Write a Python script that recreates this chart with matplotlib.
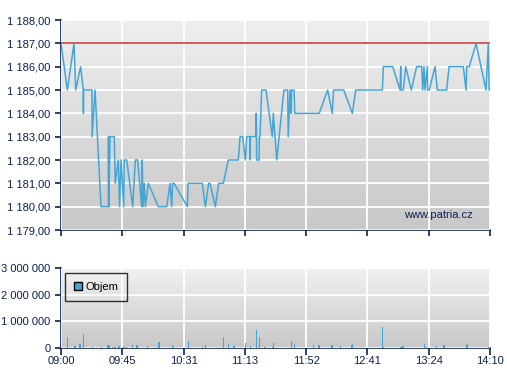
import matplotlib.pyplot as plt
import numpy as np
from matplotlib.patches import Patch

plt.rcParams['font.family'] = ['Liberation Sans', 'DejaVu Sans']

# minutes since 09:00 (axis spans the session 09:00 - 14:10)
price_t = [0, 4.6, 9.4, 10.6, 14.2, 16.1, 16.2, 16.3, 22.4, 22.5, 24.6, 28.9,
           34.2, 34.3, 34.6, 35.4, 38.5, 39.2, 41.4, 42.3, 43.4, 45.3, 45.7,
           47.5, 51.8, 53.7, 55.4, 58.3, 58.7, 59.3, 60.2, 61.0, 63.1, 70.3,
           76.4, 78.8, 80.0, 80.7, 81.7, 91.3, 91.8, 102.1, 104.3, 106.7,
           107.7, 111.5, 114.0, 117.3, 120.9, 128.1, 129.4, 131.3, 133.2,
           134.2, 136.6, 136.7, 136.9, 140.9, 141.1, 141.4, 143.1, 143.3,
           143.8, 145.0, 148.1, 152.7, 153.4, 155.9, 161.1, 163.8, 164.2,
           165.5, 166.4, 166.6, 168.4, 168.9, 186.6, 192.7, 196.0, 197.0,
           204.3, 210.5, 213.0, 232.2, 232.9, 239.7, 245.0, 245.5, 245.7,
           247.3, 249.1, 253.1, 257.0, 260.6, 261.4, 262.3, 263.0, 264.7,
           264.9, 266.1, 270.3, 271.9, 278.7, 280.4, 290.7, 292.7, 293.2,
           295.0, 299.9, 307.1, 308.8, 309.4]
price = [1187, 1185, 1187, 1185, 1186, 1185, 1184, 1185, 1185, 1183, 1185, 1180,
         1180, 1183, 1180, 1183, 1183, 1181, 1182, 1180, 1182, 1180, 1182,
         1182, 1180, 1182, 1182, 1180, 1182, 1180, 1181, 1180, 1181, 1180,
         1180, 1181, 1180, 1181, 1181, 1180, 1181, 1181, 1180, 1181,
         1181, 1180, 1181, 1181, 1182, 1182, 1183, 1183, 1182,
         1183, 1183, 1182, 1183, 1183, 1184, 1182, 1182, 1183,
         1183, 1185, 1185, 1183, 1184, 1182, 1185, 1185, 1183,
         1185, 1184, 1185, 1185, 1184, 1184, 1185, 1184, 1185,
         1185, 1184, 1185, 1185, 1186, 1186, 1185, 1186, 1185,
         1185, 1186, 1185, 1186, 1186, 1185, 1186, 1185, 1186,
         1185, 1185, 1186, 1185, 1185, 1186, 1186, 1185, 1186,
         1186, 1187, 1185, 1187, 1185]
prev_close = 1187

vol_t = [4.6, 10.3, 13.9, 16.1, 22.6, 29.1, 33.5, 34.2, 34.9, 37.1, 39.2, 42.1,
         45.0, 46.0, 47.2, 51.5, 55.1, 62.4, 70.3, 71.0, 80.4, 81.1, 92.0,
         102.1, 104.3, 117.3, 120.9, 125.2, 133.2, 136.8, 141.1, 143.3, 147.6,
         152.7, 153.4, 166.4, 168.6, 182.3, 186.6, 196.0, 201.8, 209.8, 210.5,
         232.2, 232.9, 245.2, 245.9, 247.3, 262.5, 264.0, 271.2, 276.9, 292.9,
         293.6, 308.8]
volume = [415000, 75000, 150000, 530000, 40000, 40000, 115000, 115000, 115000,
          40000, 40000, 75000, 40000, 40000, 40000, 115000, 115000, 75000,
          115000, 225000, 115000, 40000, 265000, 40000, 115000, 415000, 150000,
          75000, 190000, 75000, 680000, 415000, 40000, 40000, 190000, 265000,
          150000, 115000, 115000, 115000, 75000, 115000, 150000, 790000, 40000,
          40000, 40000, 75000, 150000, 40000, 75000, 115000, 115000, 150000,
          40000]

time_labels = ['09:00', '09:45', '10:31', '11:13', '11:52', '12:41', '13:24', '14:10']
price_ticks = [1179, 1180, 1181, 1182, 1183, 1184, 1185, 1186, 1187, 1188]
vol_ticks = [0, 1000000, 2000000, 3000000]

navy = '#0b2150'
blue = '#45a6d6'
span = 310
xticks = np.linspace(0, span, len(time_labels))


def style_axes(ax, top_c, bot_c):
    grad = np.linspace(0, 1, 256).reshape(-1, 1)
    c0 = np.array(top_c) / 255.0
    c1 = np.array(bot_c) / 255.0
    img = c0 + (c1 - c0) * grad[:, :, None]
    ax.imshow(img, extent=[0, 1, 0, 1], transform=ax.transAxes,
              aspect='auto', zorder=0)
    for s in ['top', 'right']:
        ax.spines[s].set_visible(False)
    for s in ['left', 'bottom']:
        ax.spines[s].set_color(navy)
        ax.spines[s].set_linewidth(1.2)
    ax.tick_params(colors=navy, labelsize=8, length=4, width=1.2,
                   labelcolor=navy)
    ax.grid(True, color='white', linewidth=1.3, zorder=1)
    ax.set_axisbelow(False)
    ax.set_xlim(0, span)
    ax.set_xticks(xticks)


fig = plt.figure(figsize=(5.07, 3.80), dpi=100)
ax1 = fig.add_axes([61 / 507, 1 - 230 / 380, 429 / 507, 210 / 380])
ax2 = fig.add_axes([61 / 507, 1 - 348 / 380, 429 / 507, 80 / 380])

style_axes(ax1, (239, 239, 239), (200, 200, 200))
ax1.set_ylim(1179, 1188)
ax1.set_yticks(price_ticks)
ax1.set_yticklabels(['1 %03d,00' % (p - 1000) for p in price_ticks])
ax1.set_xticklabels([])
ax1.axhline(prev_close, color='#c8302c', linewidth=1.1, zorder=3)
ax1.plot(price_t, price, color=blue, linewidth=1.1, zorder=4)
ax1.text(0.96, 0.07, 'www.patria.cz', transform=ax1.transAxes, ha='right',
         va='center', fontsize=8, color=navy, zorder=5)

style_axes(ax2, (241, 241, 241), (200, 200, 200))
ax2.bar(vol_t, volume, width=1.1, color=blue, zorder=4)
ax2.set_ylim(0, 3000000)
ax2.set_yticks(vol_ticks)
ax2.set_yticklabels(['{:,}'.format(v).replace(',', ' ') for v in vol_ticks])
ax2.set_xticklabels(time_labels)
ax2.tick_params(axis='x', length=5, pad=1)

leg = ax2.legend(handles=[Patch(facecolor=blue, edgecolor='black', label='Objem')],
                 loc='upper left', bbox_to_anchor=(0.009, 0.94), fontsize=8,
                 frameon=True, fancybox=False, handlelength=0.7,
                 handleheight=0.7, borderpad=0.8, handletextpad=0.35,
                 borderaxespad=0)
leg.get_frame().set_edgecolor('black')
leg.get_frame().set_facecolor('none')
leg.get_frame().set_linewidth(1.0)
leg.set_zorder(6)

fig.savefig('out.png', dpi=100)
